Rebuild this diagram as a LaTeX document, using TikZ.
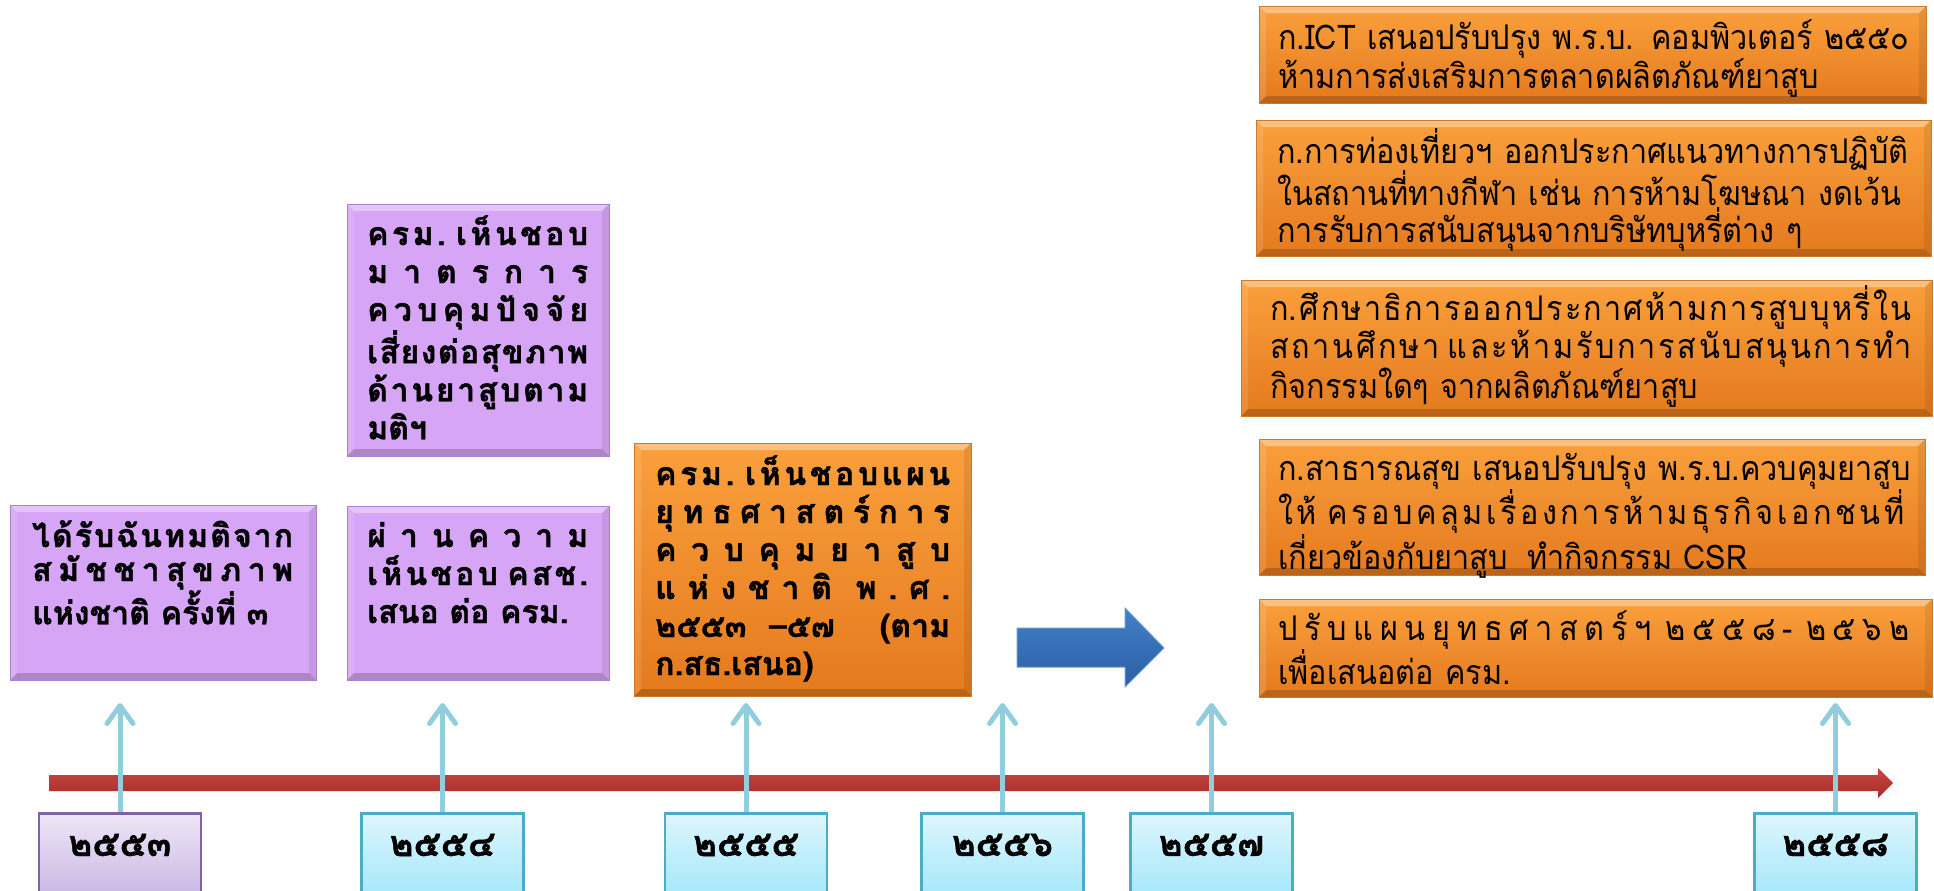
\documentclass[tikz,border=0pt]{standalone}
\usepackage{fontspec}
\newfontfamily\thaib[Script=Thai,BoldFeatures={FakeBold=1.2}]{Loma}
\newfontfamily\thain[Script=Thai,FakeStretch=0.9]{Loma}
\usetikzlibrary{arrows.meta}
\definecolor{purpfill}{RGB}{214,165,246}
\definecolor{purpedge}{RGB}{170,130,200}
\definecolor{orgtop}{RGB}{250,160,60}
\definecolor{orgbot}{RGB}{228,122,30}
\definecolor{orgedge}{RGB}{205,120,45}
\definecolor{ybtop}{RGB}{222,246,253}
\definecolor{ybbot}{RGB}{160,230,250}
\definecolor{ybedge}{RGB}{75,172,198}
\definecolor{yptop}{RGB}{238,230,247}
\definecolor{ypbot}{RGB}{200,180,226}
\definecolor{ypedge}{RGB}{128,100,162}
\definecolor{arrowblue}{RGB}{146,205,222}
\definecolor{redtop}{RGB}{200,70,64}
\definecolor{redbot}{RGB}{168,46,42}
\definecolor{bluetop}{RGB}{66,128,200}
\definecolor{bluebot}{RGB}{44,94,164}
\newcommand\J[2][\linewidth]{\makebox[#1][s]{#2}}
\newcommand\hf{\hfill}
\begin{document}
\begin{tikzpicture}[x=1bp,y=-1bp,
  bevel/.style={path picture={
    \fill[white,opacity=.35] (path picture bounding box.north west) -- (path picture bounding box.north east) -- ([xshift=-7bp,yshift=-7bp]path picture bounding box.north east) -- ([xshift=7bp,yshift=-7bp]path picture bounding box.north west) -- cycle;
    \fill[black,opacity=.18] (path picture bounding box.south west) -- (path picture bounding box.south east) -- ([xshift=-7bp,yshift=7bp]path picture bounding box.south east) -- ([xshift=7bp,yshift=7bp]path picture bounding box.south west) -- cycle;
    \fill[white,opacity=.12] (path picture bounding box.south west) -- (path picture bounding box.north west) -- ([xshift=7bp,yshift=-7bp]path picture bounding box.north west) -- ([xshift=7bp,yshift=7bp]path picture bounding box.south west) -- cycle;
    \fill[black,opacity=.08] (path picture bounding box.south east) -- (path picture bounding box.north east) -- ([xshift=-7bp,yshift=-7bp]path picture bounding box.north east) -- ([xshift=-7bp,yshift=7bp]path picture bounding box.south east) -- cycle;
  }},
  box/.style={anchor=north west, inner sep=0pt, outer sep=0pt, line width=1bp},
  pbox/.style={box, fill=purpfill, draw=purpedge, bevel},
  obox/.style={box, top color=orgtop, bottom color=orgbot, draw=orgedge, bevel},
  ybox/.style={anchor=north, minimum width=162bp, minimum height=90bp, inner sep=0pt, top color=ybtop, bottom color=ybbot, draw=ybedge, line width=2.5bp},
  ypbox/.style={ybox, top color=yptop, bottom color=ypbot, draw=ypedge},
  ltext/.style={anchor=base west, inner sep=0pt, align=left, font=\thaib\bfseries\fontsize{32bp}{38bp}\selectfont},
  rtext/.style={anchor=base west, inner sep=0pt, align=left, text width=720bp, font=\thain\fontsize{34bp}{37bp}\selectfont},
  ytext/.style={inner sep=0pt, font=\thaib\bfseries\fontsize{36bp}{40bp}\selectfont},
  uparrow/.style={draw=arrowblue, line width=5bp, -{Straight Barb[length=18bp,width=26bp,round]}},
  timeline/.style={top color=redtop, bottom color=redbot},
  bigarrow/.style={top color=bluetop, bottom color=bluebot, draw=bluetop!80!white, line width=1bp}
]
\useasboundingbox (0,0) rectangle (1934,891);

% left purple boxes
\node[pbox, minimum width=306bp, minimum height=175bp] (b1) at (10,505) {};
\node[ltext, text width=261bp, font=\thaib\bfseries\fontsize{32bp}{34bp}\selectfont] (t1) at (32,547)
 {\J{ไ\hf ด้\hf รั\hf บ\hf ฉั\hf น\hf ท\hf ม\hf ติ\hf จ\hf า\hf ก}\\
  \J{ส\hf มั\hf ช\hf ช\hf า\hf สุ\hf ข\hf ภ\hf า\hf พ}\\
  แห่งชาติ ครั้งที่ ๓};

\node[pbox, minimum width=262bp, minimum height=252bp] (b2) at (347,204) {};
\node[ltext, text width=221bp] (t2) at (367,245)
 {\J{ค\hf ร\hf ม\hf .\hf\hf\hf เ\hf ห็\hf น\hf ช\hf อ\hf บ}\\
  \J{ม\hf า\hf ต\hf ร\hf ก\hf า\hf ร}\\
  \J{ค\hf ว\hf บ\hf คุ\hf ม\hf ปั\hf จ\hf จั\hf ย}\\
  \J{เ\hf สี่\hf ย\hf ง\hf ต่\hf อ\hf สุ\hf ข\hf ภ\hf า\hf พ}\\
  \J{ด้\hf า\hf น\hf ย\hf า\hf สู\hf บ\hf ต\hf า\hf ม}\\
  มติฯ};

\node[pbox, minimum width=262bp, minimum height=174bp] (b3) at (347,506) {};
\node[ltext, text width=221bp] (t3) at (367,547)
 {\J{ผ่\hf า\hf น\hf ค\hf ว\hf า\hf ม}\\
  \J{เ\hf ห็\hf น\hf ช\hf อ\hf บ\hf\hf\hf ค\hf ส\hf ช\hf .}\\
  เสนอ ต่อ ครม.};

% orange box center
\node[obox, minimum width=337bp, minimum height=253bp] (b4) at (634,443) {};
\node[ltext, text width=295bp] (t4) at (655,485)
 {\J{ค\hf ร\hf ม\hf .\hf\hf\hf เ\hf ห็\hf น\hf ช\hf อ\hf บ\hf แ\hf ผ\hf น}\\
  \J{ยุ\hf ท\hf ธ\hf ศ\hf า\hf ส\hf ต\hf ร์\hf ก\hf า\hf ร}\\
  \J{ค\hf ว\hf บ\hf คุ\hf ม\hf ย\hf า\hf สู\hf บ}\\
  \J{แ\hf ห่\hf ง\hf ช\hf า\hf ติ\hf\hf พ\hf .\hf ศ\hf .}\\
  \J{๒๕๕๓\hf –๕๗\hf\hf (ตาม}\\
  ก.สธ.เสนอ)};

% right orange boxes
\node[obox, minimum width=667bp, minimum height=97bp] (r1) at (1259,6) {};
\node[rtext] (rt1) at (1278,49)
 {ก.ICT เสนอปรับปรุง พ.ร.บ. คอมพิวเตอร์ ๒๕๕๐\\
  ห้ามการส่งเสริมการตลาดผลิตภัณฑ์ยาสูบ};

\node[obox, minimum width=675bp, minimum height=136bp] (r2) at (1256,120) {};
\node[rtext] (rt2) at (1277,163)
 {ก.การท่องเที่ยวฯ ออกประกาศแนวทางการปฏิบัติ\\
  ในสถานที่ทางกีฬา เช่น การห้ามโฆษณา งดเว้น\\
  การรับการสนับสนุนจากบริษัทบุหรี่ต่าง ๆ};

\node[obox, minimum width=691bp, minimum height=136bp] (r3) at (1241,280) {};
\node[rtext, font=\thain\fontsize{34bp}{38bp}\selectfont] (rt3) at (1270,320)
 {\J[641bp]{ก.\hf ศึ\hf ก\hf ษ\hf า\hf ธิ\hf ก\hf า\hf ร\hf อ\hf อ\hf ก\hf ป\hf ร\hf ะ\hf ก\hf า\hf ศ\hf ห้\hf า\hf ม\hf ก\hf า\hf ร\hf สู\hf บ\hf บุ\hf ห\hf รี่\hf ใ\hf น}\\
  \J[641bp]{ส\hf ถ\hf า\hf น\hf ศึ\hf ก\hf ษ\hf า\hf\hf\hf แ\hf ล\hf ะ\hf ห้\hf า\hf ม\hf รั\hf บ\hf ก\hf า\hf ร\hf ส\hf นั\hf บ\hf ส\hf นุ\hf น\hf ก\hf า\hf ร\hf ทำ}\\
  กิจกรรมใดๆ จากผลิตภัณฑ์ยาสูบ};

\node[obox, minimum width=666bp, minimum height=136bp] (r4) at (1259,439) {};
\node[rtext, font=\thain\fontsize{34bp}{38bp}\selectfont] (rt4) at (1278,480)
 {ก.สาธารณสุข เสนอปรับปรุง พ.ร.บ.ควบคุมยาสูบ\\
  \J[626bp]{ใ\hf ห้\hf\hf\hf ค\hf ร\hf อ\hf บ\hf ค\hf ลุ\hf ม\hf เ\hf รื่\hf อ\hf ง\hf ก\hf า\hf ร\hf ห้\hf า\hf ม\hf ธุ\hf ร\hf กิ\hf จ\hf เ\hf อ\hf ก\hf ช\hf น\hf ที่}\\
  เกี่ยวข้องกับยาสูบ\hspace{8bp} ทำกิจกรรม CSR};

\node[obox, minimum width=673bp, minimum height=98bp] (r5) at (1259,599) {};
\node[rtext, font=\thain\fontsize{34bp}{38bp}\selectfont] (rt5) at (1278,640)
 {\J[631bp]{ป\hf รั\hf บ\hf แ\hf ผ\hf น\hf ยุ\hf ท\hf ธ\hf ศ\hf า\hf ส\hf ต\hf ร์\hf ฯ\hf\hf ๒\hf ๕\hf ๕\hf ๘\hf -\hf\hf ๒\hf ๕\hf ๖\hf ๒}\\
  เพื่อเสนอต่อ ครม.};

% big blue arrow
\shade[bigarrow] (1017,628) -- (1125,628) -- (1125,608) -- (1164,648) -- (1125,687) -- (1125,667) -- (1017,667) -- cycle;

% timeline
\shade[timeline] (49,775) -- (1878,775) -- (1878,768) -- (1893,783) -- (1878,798) -- (1878,791) -- (49,791) -- cycle;

% year boxes
\node[ypbox] (y1) at (120,812) {};
\node[ybox] (y2) at (442.5,812) {};
\node[ybox] (y3) at (746,812) {};
\node[ybox] (y4) at (1002.5,812) {};
\node[ybox] (y5) at (1211.5,812) {};
\node[ybox] (y6) at (1835.5,812) {};
\node[ytext] (yt1) at (120,845) {๒๕๕๓};
\node[ytext] (yt2) at (442.5,845) {๒๕๕๔};
\node[ytext] (yt3) at (746,845) {๒๕๕๕};
\node[ytext] (yt4) at (1002.5,845) {๒๕๕๖};
\node[ytext] (yt5) at (1211.5,845) {๒๕๕๗};
\node[ytext] (yt6) at (1835.5,845) {๒๕๕๘};

% up arrows
\coordinate (a1) at (120,703);
\coordinate (a2) at (442.5,703);
\coordinate (a3) at (746,703);
\coordinate (a4) at (1002.5,703);
\coordinate (a5) at (1211.5,703);
\coordinate (a6) at (1835.5,703);
\draw[uparrow] (y1.north) -- (a1);
\draw[uparrow] (y2.north) -- (a2);
\draw[uparrow] (y3.north) -- (a3);
\draw[uparrow] (y4.north) -- (a4);
\draw[uparrow] (y5.north) -- (a5);
\draw[uparrow] (y6.north) -- (a6);
\end{tikzpicture}
\end{document}
